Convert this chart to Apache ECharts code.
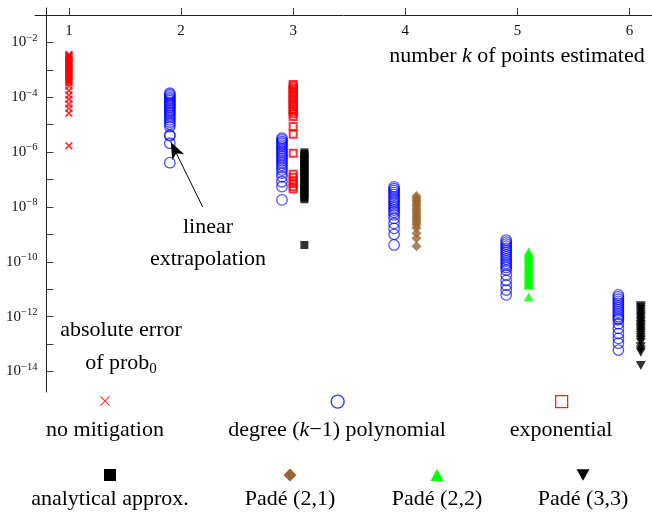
<!DOCTYPE html>
<html>
<head>
<meta charset="utf-8">
<script src="https://cdn.jsdelivr.net/npm/echarts@6/dist/echarts.min.js"></script>
<style>html,body{margin:0;padding:0;background:#fff}#c{width:652px;height:514px}</style>
</head>
<body>
<div id="c"></div>
<script>
// ---- data (absolute error of prob0) ----
const kTicks = [1, 2, 3, 4, 5, 6];
const yTickExps = [-14, -13, -12, -11, -10, -9, -8, -7, -6, -5, -4, -3, -2];
const yLabelExps = [-14, -12, -10, -8, -6, -4, -2];

const noMitigation_k1 = [3.6e-3, 3.4e-3, 3.2e-3, 3.0e-3, 2.8e-3, 2.6e-3, 2.4e-3, 2.2e-3, 2.0e-3, 1.85e-3, 1.7e-3, 1.55e-3, 1.4e-3, 1.3e-3, 1.2e-3, 1.1e-3, 1.0e-3, 9.2e-4, 8.4e-4, 7.6e-4, 6.9e-4, 6.2e-4, 5.6e-4, 5.0e-4, 4.5e-4, 4.0e-4, 3.6e-4, 3.3e-4, 2.6e-4, 1.75e-4, 1.2e-4, 8.5e-5, 5.7e-5, 4.0e-5, 2.6e-5, 1.7e-6];

const poly_k2 = [1.4e-4, 1.25e-4, 1.1e-4, 9.5e-5, 8.5e-5, 7.5e-5, 6.5e-5, 5.7e-5, 5.0e-5, 4.4e-5, 3.8e-5, 3.3e-5, 2.9e-5, 2.5e-5, 2.1e-5, 1.8e-5, 1.5e-5, 1.25e-5, 1.05e-5, 8.5e-6, 4.2e-6, 3.9e-6, 2.1e-6, 4.1e-7];
const poly_k3 = [3.2e-6, 2.8e-6, 2.4e-6, 2.1e-6, 1.8e-6, 1.55e-6, 1.3e-6, 1.1e-6, 9.5e-7, 8.0e-7, 6.8e-7, 5.8e-7, 4.8e-7, 4.0e-7, 3.3e-7, 2.7e-7, 2.2e-7, 1.7e-7, 1.26e-7, 8.3e-8, 5.5e-8, 1.8e-8];
const poly_k4 = [5.4e-8, 4.6e-8, 3.9e-8, 3.3e-8, 2.8e-8, 2.3e-8, 1.9e-8, 1.6e-8, 1.35e-8, 1.1e-8, 9.2e-9, 7.7e-9, 6.4e-9, 5.1e-9, 3.8e-9, 2.5e-9, 1.65e-9, 1.0e-9, 4.1e-10];
const poly_k5 = [6.2e-10, 5.2e-10, 4.4e-10, 3.7e-10, 3.1e-10, 2.6e-10, 2.2e-10, 1.8e-10, 1.5e-10, 1.25e-10, 1.05e-10, 8.8e-11, 7.4e-11, 6.2e-11, 5.0e-11, 3.3e-11, 2.1e-11, 1.4e-11, 9.3e-12, 6.2e-12];
const poly_k6 = [6.2e-12, 5.2e-12, 4.3e-12, 3.6e-12, 3.0e-12, 2.5e-12, 2.1e-12, 1.75e-12, 1.45e-12, 1.2e-12, 1.0e-12, 8.5e-13, 7.6e-13, 5.5e-13, 3.7e-13, 2.4e-13, 1.6e-13, 1.07e-13, 6.0e-14];

const exponential_k3 = [2.9e-4, 2.5e-4, 2.1e-4, 1.8e-4, 1.5e-4, 1.25e-4, 1.05e-4, 8.8e-5, 7.3e-5, 6.1e-5, 5.1e-5, 4.3e-5, 3.6e-5, 3.0e-5, 2.5e-5, 2.0e-5, 8.5e-6, 4.5e-6, 9.1e-7, 1.55e-7, 1.2e-7, 9.0e-8, 7.2e-8, 5.5e-8, 4.5e-8];
const analytical_k3 = [9.8e-7, 8.5e-7, 7.2e-7, 6.1e-7, 5.2e-7, 4.4e-7, 3.7e-7, 3.1e-7, 2.6e-7, 2.2e-7, 1.85e-7, 1.55e-7, 1.3e-7, 1.1e-7, 9.2e-8, 7.7e-8, 6.5e-8, 5.4e-8, 4.5e-8, 3.8e-8, 3.2e-8, 2.7e-8, 2.2e-8, 1.9e-8, 4.1e-10];
const pade21_k4 = [2.5e-8, 2.1e-8, 1.8e-8, 1.5e-8, 1.25e-8, 1.05e-8, 8.8e-9, 7.4e-9, 6.2e-9, 5.2e-9, 4.4e-9, 3.7e-9, 3.1e-9, 2.6e-9, 2.2e-9, 1.7e-9, 1.1e-9, 7.2e-10, 3.7e-10];
const pade22_k5 = [2.3e-10, 1.95e-10, 1.65e-10, 1.4e-10, 1.2e-10, 1.0e-10, 8.5e-11, 7.2e-11, 6.1e-11, 5.2e-11, 4.4e-11, 3.7e-11, 3.1e-11, 2.6e-11, 2.2e-11, 1.85e-11, 1.55e-11, 1.4e-11, 5.2e-12];
const pade33_k6 = [2.5e-12, 2.1e-12, 1.8e-12, 1.5e-12, 1.25e-12, 1.05e-12, 8.8e-13, 7.4e-13, 6.2e-13, 5.2e-13, 4.3e-13, 3.6e-13, 3.0e-13, 2.5e-13, 2.1e-13, 1.7e-13, 1.4e-13, 1.15e-13, 8.0e-14, 6.0e-14, 5.0e-14, 1.65e-14];

// arrow annotation: from [k, value] to [k, value]
const arrowFrom = [2.193, 1.0e-8];
const arrowTo = [1.908, 2.35e-6];

const names = ['no mitigation', 'degree (k\u22121) polynomial', 'exponential', 'analytical approx.', 'Pad\u00e9 (2,1)', 'Pad\u00e9 (2,2)', 'Pad\u00e9 (3,3)'];
const colors = ['#ff0000', 'rgba(0,0,255,0.85)', '#ff0000', '#000000', '#996633', '#00ff00', '#000000'];

// ---- build ----
const FONT = 'Liberation Serif';
const OFF = 0.1;
const pts = (k, arr) => arr.map(v => [k, Math.log10(v)]);
const crossPath = 'path://M0,1.5L1.5,0L5,3.5L8.5,0L10,1.5L6.5,5L10,8.5L8.5,10L5,6.5L1.5,10L0,8.5L3.5,5Z';
const crossThin = 'path://M0,0.8L0.8,0L5,4.2L9.2,0L10,0.8L5.8,5L10,9.2L9.2,10L5,5.8L0.8,10L0,9.2L4.2,5Z';
const downTri = 'path://M0,0L10,0L5,9Z';

const series = [
  { name: names[0], type: 'scatter', symbol: crossPath, symbolSize: 8,
    itemStyle: { color: colors[0] }, data: pts(1, noMitigation_k1) },
  { name: names[1], type: 'scatter', symbol: 'circle', symbolSize: 10.5,
    itemStyle: { color: 'rgba(0,0,0,0)', borderColor: colors[1], borderWidth: 1.3 },
    data: [].concat(pts(2 - OFF, poly_k2), pts(3 - OFF, poly_k3), pts(4 - OFF, poly_k4), pts(5 - OFF, poly_k5), pts(6 - OFF, poly_k6)),
    markLine: { silent: true, symbol: ['none', 'arrow'], symbolSize: [10, 17],
      lineStyle: { color: '#000', width: 1, type: 'solid' }, label: { show: false },
      data: [[{ coord: [arrowFrom[0], Math.log10(arrowFrom[1])] }, { coord: [arrowTo[0], Math.log10(arrowTo[1])] }]] } },
  { name: names[2], type: 'scatter', symbol: 'rect', symbolSize: 7,
    itemStyle: { color: 'rgba(0,0,0,0)', borderColor: colors[2], borderWidth: 2 }, data: pts(3, exponential_k3) },
  { name: names[3], type: 'scatter', symbol: 'rect', symbolSize: 8,
    itemStyle: { color: colors[3] }, data: pts(3 + OFF, analytical_k3) },
  { name: names[4], type: 'scatter', symbol: 'diamond', symbolSize: [10, 10],
    itemStyle: { color: colors[4] }, data: pts(4 + OFF, pade21_k4) },
  { name: names[5], type: 'scatter', symbol: 'triangle', symbolSize: [10, 9],
    itemStyle: { color: colors[5] }, data: pts(5 + OFF, pade22_k5) },
  { name: names[6], type: 'scatter', symbol: downTri, symbolSize: [10, 9],
    itemStyle: { color: colors[6] }, data: pts(6 + OFF, pade33_k6) }
];

// legend icon centres (pixels) and text
const legendPos = [[105, 401], [337, 401], [561, 401], [110, 475], [290, 475], [437, 475], [583, 475]];
const legendSize = [[10, 10], [13, 13], [12, 12], [12, 12], [13, 13], [13, 12], [13, 12]];
const legendIcon = [crossThin, 'circle', 'rect', 'rect', 'diamond', 'triangle', downTri];
const legendItemStyle = [
  { color: '#ff3030', opacity: 1 },
  { color: 'rgba(0,0,0,0)', borderColor: '#3333ff', borderWidth: 1.3, opacity: 1 },
  { color: 'rgba(0,0,0,0)', borderColor: '#ff2020', borderWidth: 1.3, opacity: 1 },
  { color: '#000', opacity: 1 },
  { color: '#996633', opacity: 1 },
  { color: '#00ff00', opacity: 1 },
  { color: '#000', opacity: 1 }
];
const legends = names.map((n, i) => ({
  data: [{ name: n, icon: legendIcon[i], itemStyle: legendItemStyle[i] }], selectedMode: false,
  left: legendPos[i][0] - legendSize[i][0] / 2, top: legendPos[i][1] - legendSize[i][1] / 2,
  itemWidth: legendSize[i][0], itemHeight: legendSize[i][1], itemGap: 0, padding: 0,
  formatter: () => '', textStyle: { fontSize: 1 }
}));

const txt = (x, y, text, rich, size) => ({
  type: 'text', x: x, y: y, silent: true,
  style: { text: text, fill: '#000', font: (size || 22) + 'px "' + FONT + '"', align: 'center', verticalAlign: 'middle', rich: rich }
});
const baseRich = {
  n: { fontFamily: FONT, fontSize: 22, fill: '#000' },
  i: { fontFamily: FONT, fontSize: 22, fontStyle: 'italic', fill: '#000' },
  sub: { fontFamily: FONT, fontSize: 15, fill: '#000', padding: [12, 0, 0, 0] }
};

const option = {
  animation: false,
  backgroundColor: '#fff',
  grid: [
    { left: 46.5, top: 15, width: 606.7, height: 377 },
    { left: 35, top: 15, width: 617, height: 377 },
    { left: 46.5, top: 8, width: 606.7, height: 384 }
  ],
  xAxis: [
    { gridIndex: 0, type: 'value', position: 'top', min: 0.8, max: 6.2,
      axisLine: { show: false },
      axisTick: { show: true, inside: false, length: 7, customValues: kTicks, lineStyle: { color: '#444', width: 1 } },
      axisLabel: { inside: true, margin: 9, customValues: kTicks, fontFamily: FONT, fontSize: 15, color: '#111', formatter: v => String(v) },
      splitLine: { show: false } },
    { gridIndex: 1, type: 'value', position: 'top', min: 0, max: 1,
      axisLine: { show: true, onZero: false, lineStyle: { color: '#222', width: 1 } },
      axisTick: { show: false }, axisLabel: { show: false }, splitLine: { show: false } },
    { gridIndex: 2, type: 'value', show: false, min: 0, max: 1 }
  ],
  yAxis: [
    { gridIndex: 0, type: 'value', min: -14.75, max: -1,
      axisLine: { show: false },
      axisTick: { show: true, inside: true, length: 7, customValues: yTickExps, lineStyle: { color: '#444', width: 1 } },
      axisLabel: { margin: 9, customValues: yLabelExps, color: '#111',
        formatter: v => '{b|10}{s|\u2212' + (-v) + '}',
        rich: { b: { fontFamily: FONT, fontSize: 15, color: '#111' },
                s: { fontFamily: FONT, fontSize: 10.5, color: '#111', padding: [0, 0, 9, 0] } } },
      splitLine: { show: false } },
    { gridIndex: 1, type: 'value', show: false, min: 0, max: 1 },
    { gridIndex: 2, type: 'value', position: 'left', min: 0, max: 1,
      axisLine: { show: true, onZero: false, lineStyle: { color: '#222', width: 1 } },
      axisTick: { show: false }, axisLabel: { show: false }, splitLine: { show: false } }
  ],
  legend: legends,
  series: series,
  graphic: [
    txt(517, 56, '{n|number }{i|k}{n| of points estimated}', baseRich),
    txt(208, 227, 'linear'),
    txt(208, 259, 'extrapolation'),
    txt(121, 330, 'absolute error'),
    txt(121, 363, '{n|of prob}{sub|0}', baseRich),
    txt(105, 430, 'no mitigation'),
    txt(337, 430, '{n|degree (}{i|k}{n|\u22121) polynomial}', baseRich),
    txt(561, 430, 'exponential'),
    txt(110, 499, 'analytical approx.'),
    txt(290, 499, 'Pad\u00e9 (2,1)'),
    txt(437, 499, 'Pad\u00e9 (2,2)'),
    txt(583, 499, 'Pad\u00e9 (3,3)')
  ]
};

const chart = echarts.init(document.getElementById('c'), null, { renderer: 'canvas' });
chart.setOption(option);
</script>
</body>
</html>
